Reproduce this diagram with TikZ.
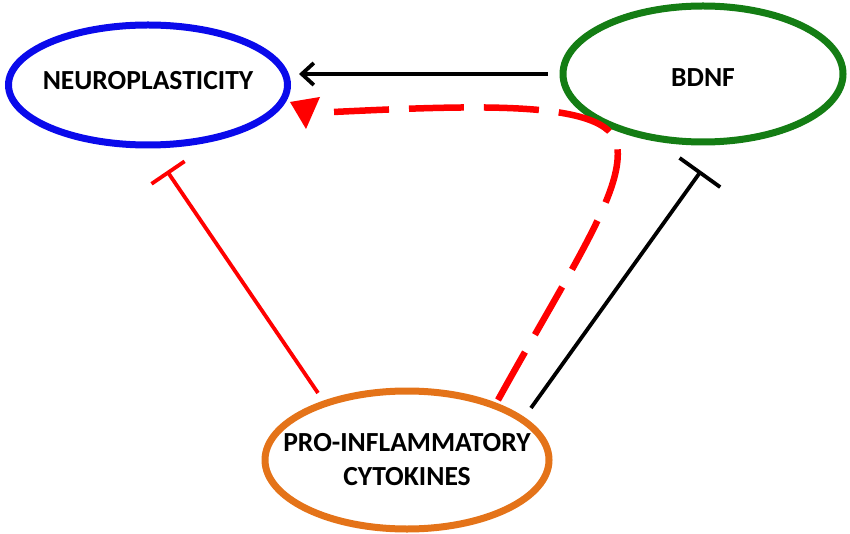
\documentclass[tikz,border=0pt]{standalone}
\usepackage{fontspec}
\setmainfont{Carlito}
\usetikzlibrary{arrows.meta,shapes.geometric}
\definecolor{npblue}{RGB}{10,10,235}
\definecolor{bdgreen}{RGB}{20,125,20}
\definecolor{cyorange}{RGB}{228,115,25}
\definecolor{fxred}{RGB}{255,0,0}

\begin{document}
\begin{tikzpicture}[x=1pt,y=-1pt,
  blob/.style={ellipse,line width=7pt,inner xsep=-30pt,inner ysep=-10pt,align=center,
    font=\bfseries\fontsize{27.6}{34}\selectfont},
  block/.style={line width=3.8pt,-{Bar[width=#1]}}]
\useasboundingbox (0,0) rectangle (850,534);

\node[blob,draw=npblue,minimum width=279pt,minimum height=120pt,text depth=10pt] (neuro) at (148,85) {NEUROPLASTICITY};
\node[blob,draw=bdgreen,minimum width=280pt,minimum height=136pt,text height=26pt] (bdnf) at (703,74) {BDNF};
\node[blob,draw=cyorange,minimum width=284pt,minimum height=138pt] (cyto) at (407,460) {PRO-INFLAMMATORY\\CYTOKINES};

\draw[line width=3.8pt,shorten <=12pt,shorten >=8pt,-{Straight Barb[length=12pt,width=22pt]}] (bdnf.west) -- (bdnf.west -| neuro.east);
\draw[fxred,block=40pt] ([shift={(-89,-67)}]cyto.center) -- ([shift={(19,86)}]neuro.center);
\draw[black,block=50pt] ([shift={(124,-52)}]cyto.center) -- ([shift={(-2,97)}]bdnf.center);
\draw[fxred,line width=6.5pt,dash pattern=on 55pt off 20pt] ([shift={(91,-60)}]cyto.center)
  .. controls +(72,-130) and +(8,45) .. ([shift={(-86,71)}]bdnf.center)
  .. controls +(-9,-45) and +(147,-7) .. ([shift={(185,27)}]neuro.center);
\fill[fxred] ([shift={(142,17)}]neuro.center) -- ++(30,-5) -- ++(-14,32) -- cycle;
\end{tikzpicture}
\end{document}
